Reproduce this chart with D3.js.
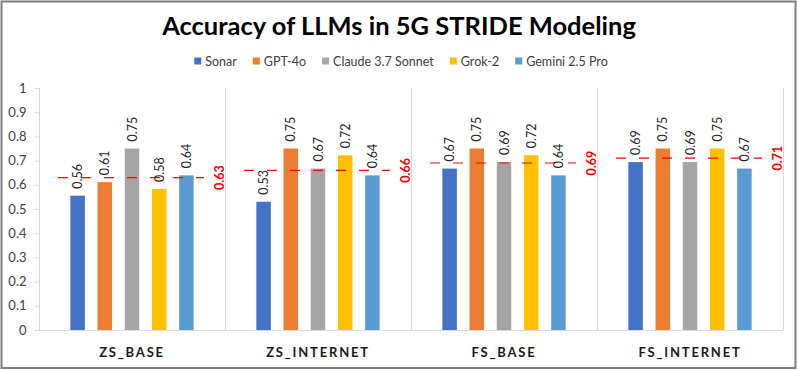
<!DOCTYPE html>
<html>
<head>
<meta charset="utf-8">
<script src="https://cdn.jsdelivr.net/npm/d3@7"></script>
<style>
  html, body { margin: 0; padding: 0; background: #fff; }
  svg { display: block; font-family: Lato, "Open Sans", sans-serif; }
</style>
</head>
<body>
<svg id="chart" width="798" height="370"></svg>
<script>
const categories = ["ZS_BASE", "ZS_INTERNET", "FS_BASE", "FS_INTERNET"];
const seriesNames = ["Sonar", "GPT-4o", "Claude 3.7 Sonnet", "Grok-2", "Gemini 2.5 Pro"];
const seriesColors = ["#4472C4", "#ED7D31", "#A5A5A5", "#FFC000", "#5B9BD5"];
const sonar  = [0.555, 0.53, 0.667, 0.694];
const gpt4o  = [0.611, 0.75, 0.75, 0.75];
const claude = [0.75, 0.667, 0.694, 0.694];
const grok   = [0.583, 0.722, 0.722, 0.75];
const gemini = [0.639, 0.639, 0.639, 0.667];
const averages = [0.63, 0.66, 0.69, 0.71];
const yTicks = [0, 0.1, 0.2, 0.3, 0.4, 0.5, 0.6, 0.7, 0.8, 0.9, 1];
const title = "Accuracy of LLMs in 5G STRIDE Modeling";

const seriesValues = [sonar, gpt4o, claude, grok, gemini];

const svg = d3.select("#chart");
const W = 798, H = 370;
const plot = { left: 39, right: 783, top: 88, bottom: 330 };

// outer border
svg.append("rect").attr("x", 1.5).attr("y", 1.5).attr("width", W - 4).attr("height", H - 3.5)
  .attr("fill", "#fff").attr("stroke", "#7f7f7f").attr("stroke-width", 2);

// title
svg.append("text").attr("x", 399).attr("y", 35).attr("text-anchor", "middle")
  .attr("font-size", 25.5).attr("font-weight", 700).attr("fill", "#000").text(title);

// scales
const x = d3.scaleBand().domain(categories).range([plot.left, plot.right]).paddingInner(0).paddingOuter(0);
const xs = d3.scaleBand().domain(seriesNames).range([0, x.bandwidth()]).paddingInner(0.467).paddingOuter(1.153);
const y = d3.scaleLinear().domain([0, 1]).range([plot.bottom, plot.top]);

// separators (category boundaries)
const bounds = categories.map(c => x(c)).concat([plot.right]);
svg.append("g").selectAll("line").data(bounds).join("line")
  .attr("x1", d => d + 0.5).attr("x2", d => d + 0.5)
  .attr("y1", plot.top).attr("y2", plot.bottom)
  .attr("stroke", "#d9d9d9").attr("stroke-width", 1);

// y axis
const yAxis = d3.axisLeft(y).tickValues(yTicks).tickSize(5).tickPadding(8)
  .tickFormat(d => d3.format("~g")(d));
const gy = svg.append("g").attr("transform", `translate(${plot.left + 0.5},0)`).call(yAxis);
gy.select(".domain").remove();
gy.selectAll(".tick line").attr("stroke", "#d9d9d9");
gy.selectAll(".tick text").attr("font-size", 13).attr("fill", "#404040")
  .attr("font-family", "Lato, sans-serif");

// baseline
svg.append("line").attr("x1", plot.left).attr("x2", plot.right)
  .attr("y1", plot.bottom + 0.5).attr("y2", plot.bottom + 0.5)
  .attr("stroke", "#d9d9d9");

// bars
const barData = [];
categories.forEach((c, ci) => {
  seriesNames.forEach((s, si) => {
    barData.push({ c, s, si, v: seriesValues[si][ci] });
  });
});
svg.append("g").selectAll("rect").data(barData).join("rect")
  .attr("x", d => x(d.c) + xs(d.s))
  .attr("y", d => y(d.v))
  .attr("width", xs.bandwidth())
  .attr("height", d => y(0) - y(d.v))
  .attr("fill", d => seriesColors[d.si]);

// average dashed lines
svg.append("g").selectAll("line").data(categories).join("line")
  .attr("x1", c => x(c) + 19).attr("x2", c => x(c) + x.bandwidth() - 21)
  .attr("y1", (c, i) => y(averages[i])).attr("y2", (c, i) => y(averages[i]))
  .attr("stroke", "#ff0000").attr("stroke-width", 1.2).attr("stroke-dasharray", "10,13");

// value labels
svg.append("g").selectAll("text").data(barData).join("text")
  .attr("transform", d => `translate(${x(d.c) + xs(d.s) + xs.bandwidth() / 2 + 4.5},${y(d.v) - 7}) rotate(-90)`)
  .attr("font-size", 12.5).attr("fill", "#262626").attr("text-anchor", "start")
  .text(d => d3.format(".2f")(d.v));

// average labels
svg.append("g").selectAll("text").data(categories).join("text")
  .attr("transform", (c, i) => `translate(${x(c) + x.bandwidth() - 1},${y(averages[i])}) rotate(-90)`)
  .attr("font-size", 12.5).attr("font-weight", 700).attr("fill", "#ff0000").attr("text-anchor", "middle")
  .text((c, i) => d3.format(".2f")(averages[i]));

// category labels
svg.append("g").selectAll("text").data(categories).join("text")
  .attr("x", c => x(c) + x.bandwidth() / 2).attr("y", 357)
  .attr("text-anchor", "middle").attr("font-size", 13).attr("font-weight", 700)
  .attr("letter-spacing", 1.8).attr("fill", "#1a1a1a")
  .text(c => c);

// legend
const lg = svg.append("g");
const items = lg.selectAll("g").data(seriesNames).join("g");
items.append("rect").attr("width", 7).attr("height", 7).attr("y", 57.5)
  .attr("fill", (d, i) => seriesColors[i]);
items.append("text").attr("x", 11).attr("y", 65.5).attr("font-size", 12.5).attr("fill", "#404040")
  .text(d => d);
let widths = [];
items.each(function () { widths.push(d3.select(this).select("text").node().getComputedTextLength() + 11); });
const gap = 16;
const total = d3.sum(widths) + gap * (widths.length - 1);
let cx = 401 - total / 2;
items.attr("transform", (d, i) => { const t = `translate(${cx},0)`; cx += widths[i] + gap; return t; });
</script>
</body>
</html>
